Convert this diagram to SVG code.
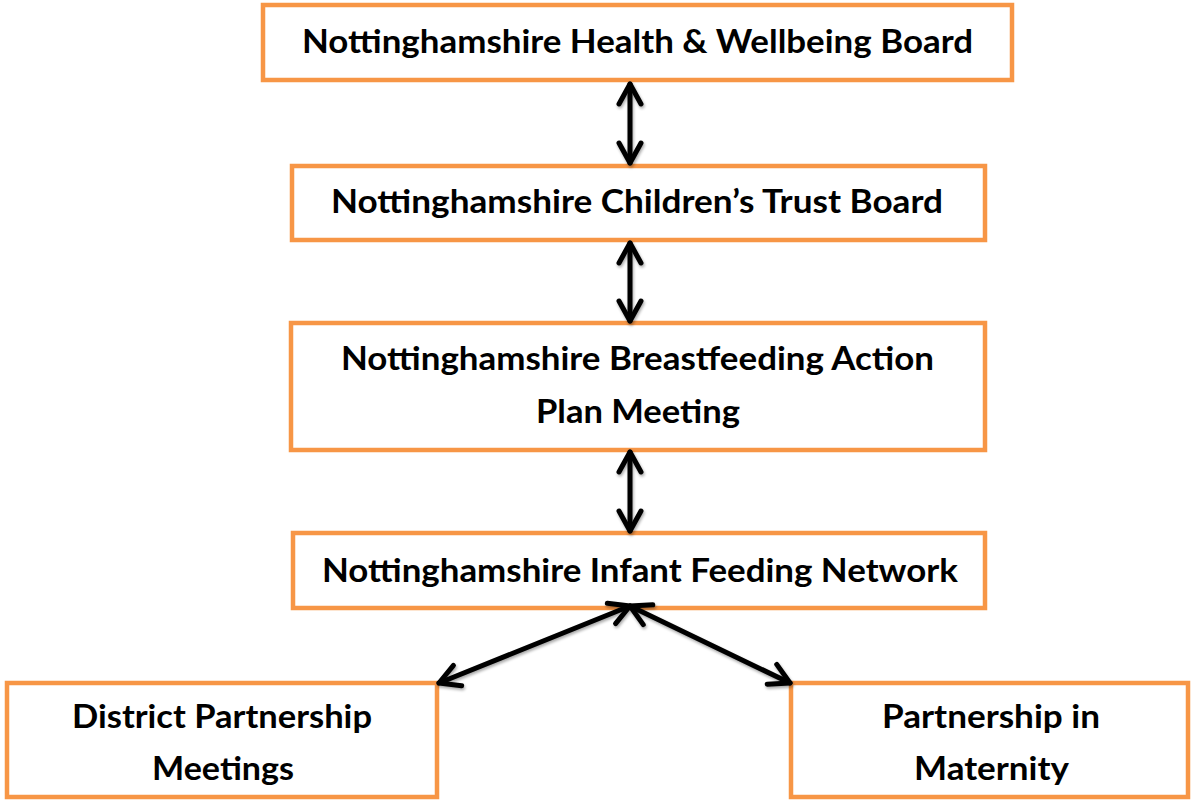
<svg xmlns="http://www.w3.org/2000/svg" width="1192" height="800" viewBox="0 0 1192 800">
  <style>
    .box { fill: #ffffff; stroke: #F79646; stroke-width: 4.5; }
    .label { font-family: Lato, "Open Sans", "Liberation Sans", sans-serif; font-weight: bold; font-size: 32px; fill: #000000; text-anchor: middle; }
    .link { fill: none; stroke: #000000; stroke-width: 5; stroke-linecap: round; marker-start: url(#head); marker-end: url(#head); }
  </style>
  <defs>
    <marker id="head" markerUnits="userSpaceOnUse" viewBox="-24 -14 30 28" refX="0" refY="0" markerWidth="30" markerHeight="28" orient="auto-start-reverse">
      <path d="M -20 -11 L 0 0 L -20 11" fill="none" stroke="#000000" stroke-width="5" stroke-linecap="round" stroke-linejoin="round"/>
    </marker>
    <filter id="shade" x="-20%" y="-20%" width="140%" height="140%">
      <feGaussianBlur in="SourceAlpha" stdDeviation="1.5"/>
      <feOffset dx="1" dy="2" result="b"/>
      <feComponentTransfer><feFuncA type="linear" slope="0.35"/></feComponentTransfer>
      <feMerge><feMergeNode/><feMergeNode in="SourceGraphic"/></feMerge>
    </filter>
  </defs>

  <rect width="1192" height="800" fill="#ffffff"/>

  <g id="health-wellbeing-board">
    <rect class="box" x="263" y="5" width="749" height="75"/>
    <text class="label" x="637.5" y="53" textLength="671" lengthAdjust="spacingAndGlyphs">Nottinghamshire Health &amp; Wellbeing Board</text>
  </g>

  <g id="childrens-trust-board">
    <rect class="box" x="292" y="166" width="693" height="74"/>
    <text class="label" x="637" y="213" textLength="612" lengthAdjust="spacingAndGlyphs">Nottinghamshire Children’s Trust Board</text>
  </g>

  <g id="breastfeeding-action-plan">
    <rect class="box" x="291" y="323" width="694" height="127"/>
    <text class="label" x="637.5" y="370" textLength="593" lengthAdjust="spacingAndGlyphs">Nottinghamshire Breastfeeding Action</text>
    <text class="label" x="638" y="423" textLength="204" lengthAdjust="spacingAndGlyphs">Plan Meeting</text>
  </g>

  <g id="infant-feeding-network">
    <rect class="box" x="293" y="533" width="692" height="75"/>
    <text class="label" x="640" y="582" textLength="636" lengthAdjust="spacingAndGlyphs">Nottinghamshire Infant Feeding Network</text>
  </g>

  <g id="district-partnership">
    <rect class="box" x="7" y="683" width="430" height="114"/>
    <text class="label" x="222" y="728" textLength="300" lengthAdjust="spacingAndGlyphs">District Partnership</text>
    <text class="label" x="223" y="780" textLength="142" lengthAdjust="spacingAndGlyphs">Meetings</text>
  </g>

  <g id="partnership-maternity">
    <rect class="box" x="791" y="683" width="397" height="114"/>
    <text class="label" x="991" y="728" textLength="218" lengthAdjust="spacingAndGlyphs">Partnership in</text>
    <text class="label" x="991.5" y="780" textLength="155" lengthAdjust="spacingAndGlyphs">Maternity</text>
  </g>

  <g id="connectors" filter="url(#shade)">
    <path class="link" d="M 630 84 L 630 163"/>
    <path class="link" d="M 630 243 L 630 321"/>
    <path class="link" d="M 630 452 L 630 531"/>
    <path class="link" d="M 630 606 L 439 683"/>
    <path class="link" d="M 630 606 L 790 683"/>
  </g>
</svg>
